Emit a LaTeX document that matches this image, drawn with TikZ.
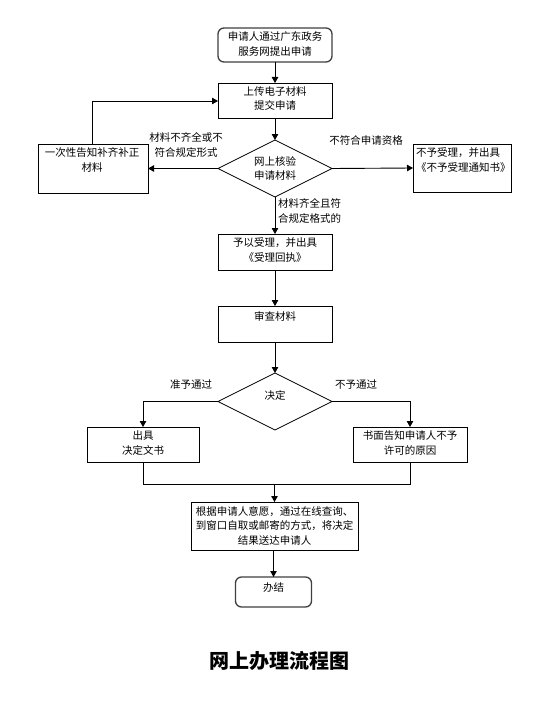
\documentclass[tikz,border=0pt]{standalone}
\usepackage{fontspec}
\setmainfont{Noto Sans CJK SC}
\usetikzlibrary{arrows.meta,shapes.geometric}
\begin{document}
\begin{tikzpicture}[x=1pt,y=-1pt,
  every node/.style={inner sep=0pt,outer sep=0pt},
  box/.style={draw=black,line width=0.9pt,rectangle},
  rbox/.style={draw=black!75,line width=1.3pt,rectangle,rounded corners=6pt},
  dia/.style={draw=black,line width=0.8pt,diamond,minimum width=114pt,minimum height=57pt},
  txt/.style={font=\fontsize{10.5}{14.5}\selectfont,align=center},
  arr/.style={line width=0.9pt,-{Triangle[width=6.5pt,length=6pt]}},
  ln/.style={line width=0.9pt}]
\useasboundingbox (0,0) rectangle (550,706);
\fill[white] (0,0) rectangle (550,706);
% shapes
\node[rbox,minimum width=114pt,minimum height=34pt] (start) at (275,45) {};
\node[box,minimum width=114pt,minimum height=35pt] (upload) at (275,100.5) {};
\node[dia] (check) at (275,168.5) {};
\node[box,minimum width=110pt,minimum height=49pt] (notify) at (93,168.5) {};
\node[box,minimum width=98pt,minimum height=48pt] (reject) at (462,168) {};
\node[box,minimum width=114pt,minimum height=36pt] (accept) at (275,252) {};
\node[box,minimum width=114pt,minimum height=36pt] (review) at (275,324) {};
\node[dia] (decide) at (275,401.5) {};
\node[box,minimum width=112pt,minimum height=35pt] (issue) at (143,444.5) {};
\node[box,minimum width=114pt,minimum height=35pt] (deny) at (410,444.5) {};
\node[box,minimum width=167pt,minimum height=48pt] (deliver) at (274.5,526) {};
\node[rbox,minimum width=76pt,minimum height=30pt] (done) at (273.5,592) {};
\coordinate (mergeL) at (143,484);
\coordinate (mergeR) at (410,484);
\coordinate (mergeC) at (274.5,484);
\coordinate (fbTop) at (92,101);
% texts
\node[txt] (startT) at (275,44) {申请人通过广东政务\\服务网提出申请};
\node[txt] (uploadT) at (275,98.5) {上传电子材料\\提交申请};
\node[txt] (checkT) at (275,168.5) {网上核验\\申请材料};
\node[txt] (notifyT) at (92,160) {一次性告知补齐补正\\材料};
\node[txt,align=left,anchor=west] (rejectT) at (416,160) {不予受理，并出具\\《不予受理通知书》};
\node[txt] (lblL) at (186,145) {材料不齐全或不\\符合规定形式};
\node[txt] (lblR) at (366,141) {不符合申请资格};
\node[txt,align=left,anchor=west] (lblD) at (278,211) {材料齐全且符\\合规定格式的};
\node[txt] (acceptT) at (275,250) {予以受理，并出具\\《受理回执》};
\node[txt] (reviewT) at (275,316) {审查材料};
\node[txt] (decideT) at (275,395) {决定};
\node[txt] (lblYes) at (191,385) {准予通过};
\node[txt] (lblNo) at (356,385) {不予通过};
\node[txt] (issueT) at (143,443) {出具\\决定文书};
\node[txt] (denyT) at (410,443) {书面告知申请人不予\\许可的原因};
\node[txt] (deliverT) at (274.5,525.5) {根据申请人意愿，通过在线查询、\\到窗口自取或邮寄的方式，将决定\\结果送达申请人};
\node[txt] (doneT) at (273.5,588) {办结};
\node[font=\fontsize{20}{24}\selectfont\bfseries] (title) at (279,661) {网上办理流程图};
% connectors
\draw[arr] (start.south) -- (upload.north);
\draw[arr] (upload.south) -- (check.north);
\draw[arr] (check.west) -- (notify.east);
\draw[arr] (check.east) -- (reject.west);
\draw[arr] (notify.north -| fbTop) -- (fbTop) -- (fbTop -| upload.west);
\draw[arr] (check.south) -- (accept.north);
\draw[arr] (accept.south) -- (review.north);
\draw[arr] (review.south) -- (decide.north);
\draw[arr] (decide.west) -| (issue.north);
\draw[arr] (decide.east) -| (deny.north);
\draw[ln] (issue.south) -- (mergeL) -- (mergeR) -- (deny.south);
\draw[arr] (mergeC) -- (deliver.north);
\draw[arr] (deliver.south -| done.north) -- (done.north);
\end{tikzpicture}
\end{document}
